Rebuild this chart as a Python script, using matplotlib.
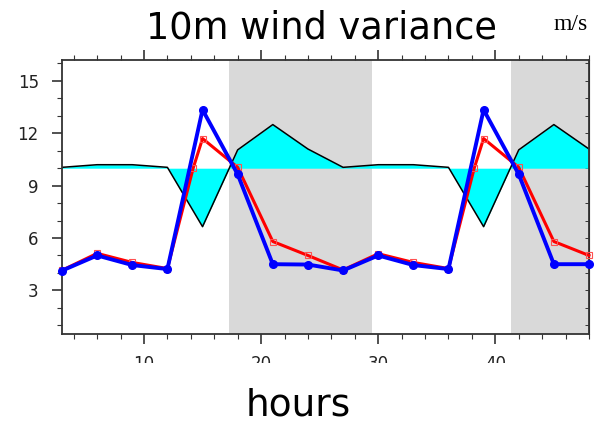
import matplotlib
matplotlib.use("Agg")
import matplotlib.pyplot as plt
from matplotlib.patches import Rectangle
from matplotlib.ticker import MultipleLocator
import numpy as np

# ---- data ----
hours = [3, 6, 9, 12, 15, 18, 21, 24, 27, 30, 33, 36, 39, 42, 45, 48]
black_vals = [10.05, 10.2, 10.2, 10.05, 6.65, 11.05, 12.5, 11.1, 10.05, 10.2, 10.2, 10.05, 6.65, 11.05, 12.5, 11.1]
baseline = 10.0
red_hours = [3, 6, 9, 12, 14.2, 15, 18, 21, 24, 27, 30, 33, 36, 38.2, 39, 42, 45, 48]
red_vals = [4.15, 5.12, 4.6, 4.25, 10.0, 11.7, 10.05, 5.8, 5.0, 4.17, 5.1, 4.6, 4.25, 10.0, 11.7, 10.05, 5.8, 5.0]
blue_vals = [4.13, 5.0, 4.45, 4.22, 13.35, 9.65, 4.5, 4.48, 4.14, 5.0, 4.45, 4.22, 13.35, 9.65, 4.5, 4.5]
night_spans = [(17.3, 29.5), (41.3, 53.5)]
xticks = [10, 20, 30, 40]
yticks = [3, 6, 9, 12, 15]

fig = plt.figure(figsize=(6, 4.26), dpi=100)
ax = fig.add_axes([62/600, 1-334/426, (589-62)/600, (334-60)/426])

for a, b in night_spans:
    ax.axvspan(a, b, color="#d9d9d9", lw=0, zorder=0)

ax.fill_between(hours, black_vals, baseline, color="#00ffff", lw=0, interpolate=True, zorder=1)
ax.plot(hours, black_vals, color="black", lw=1.1, zorder=2)
ax.plot(red_hours, red_vals, color="#ff0000", lw=2.2, marker="s", ms=5, mfc="none",
        mec="#ff5050", mew=0.8, zorder=3, clip_on=False)
ax.plot(hours, blue_vals, color="#0000ff", lw=2.8, marker="o", ms=5.5, mfc="#0000ff",
        mec="#0000ff", zorder=4, clip_on=False)

ax.set_xlim(3, 48)
ax.set_ylim(0.5, 16.2)
ax.set_xticks(xticks)
ax.xaxis.set_minor_locator(MultipleLocator(2))
ax.set_yticks(yticks)
ax.yaxis.set_minor_locator(MultipleLocator(1))
ax.tick_params(axis="x", which="both", direction="out", top=True, bottom=True,
               labelsize=12, labelcolor="#222222", pad=7.5, color="#333333")
ax.tick_params(axis="x", which="major", length=7.5, width=1.2)
ax.tick_params(axis="x", which="minor", length=3.6, width=0.8)
ax.tick_params(axis="y", which="both", direction="out", left=True, right=False,
               labelsize=12, labelcolor="#222222", pad=9.5, color="#333333")
ax.tick_params(axis="y", which="major", length=7.2, width=1.2)
ax.tick_params(axis="y", which="minor", length=3.6, width=0.8)
for s in ax.spines.values():
    s.set_linewidth(1.3)
    s.set_color("#333333")

sec = ax.secondary_yaxis("right")
sec.set_yticks(yticks)
sec.yaxis.set_minor_locator(MultipleLocator(1))
sec.tick_params(which="both", direction="in", labelright=False, length=3, width=0.7,
                color="#333333")

# cover lower part of x tick labels (clipped in reference)
fig.add_artist(Rectangle((0, 0), 1, 1 - 363/426, transform=fig.transFigure,
                         facecolor="white", edgecolor="none", zorder=10))

fig.text(321/600, 1 - 38.3/426, "10m wind variance", ha="center", va="baseline",
         fontsize=26.5, family="DejaVu Sans", zorder=11)
fig.text(553/600, 1 - 30/426, "m/s", ha="left", va="baseline", fontsize=17,
         family="Liberation Serif", zorder=11)
fig.text(298/600, 1 - 416/426, "hours", ha="center", va="baseline",
         fontsize=27, family="DejaVu Sans", zorder=11)

fig.savefig("out.png", dpi=100)
